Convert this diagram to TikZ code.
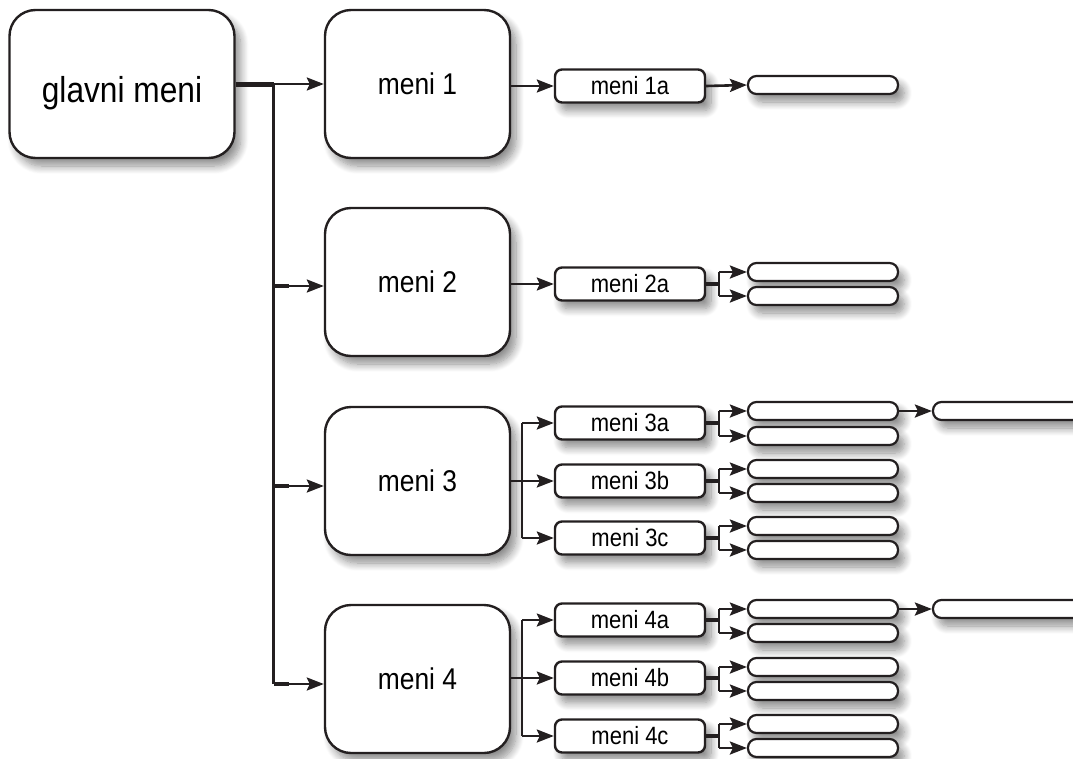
\documentclass[tikz,border=0pt]{standalone}
\usepackage{fontspec}
\setmainfont{Liberation Sans}[FakeStretch=0.88]
\usetikzlibrary{arrows.meta,shadows.blur}
\definecolor{ink}{HTML}{231F20}
\tikzset{
  box/.style={draw=ink, line width=2.4pt, fill=white, inner sep=0pt,
    blur shadow={shadow xshift=6pt, shadow yshift=-8pt, shadow blur steps=10, shadow blur radius=8pt, shadow opacity=45}},
  bigbox/.style={box, rounded corners=26pt, minimum width=185pt, minimum height=148pt, font=\fontsize{30}{32}\selectfont},
  topbox/.style={bigbox, minimum width=225pt, font=\fontsize{36}{38}\selectfont, text height=36pt, text depth=0pt},
  smallbox/.style={box, rounded corners=7pt, minimum width=150pt, minimum height=33pt, font=\fontsize{25}{26}\selectfont},
  blank/.style={box, line width=2.2pt, rounded corners=8.5pt, minimum width=150pt, minimum height=18pt},
  link/.style={draw=ink, line width=2.6pt, -{Stealth[length=17pt,width=13pt,inset=3pt]}},
  bar/.style={draw=ink, line width=3.4pt},
  thickbar/.style={draw=ink, line width=5pt}
}
\begin{document}
\begin{tikzpicture}[x=1pt,y=-1pt]
\useasboundingbox (0,0) rectangle (1073,758);
\clip (0,0) rectangle (1073,758);

% main boxes
\node[topbox] (g) at (122,84) {glavni meni};
\node[bigbox] (m1) at (417.5,84) {meni 1};
\node[bigbox] (m2) at (417.5,282) {meni 2};
\node[bigbox] (m3) at (417.5,481) {meni 3};
\node[bigbox] (m4) at (417.5,679) {meni 4};

% second level
\node[smallbox] (s1a) at (630,86) {meni 1a};
\node[smallbox] (s2a) at (630,284) {meni 2a};
\node[smallbox] (s3a) at (630,423) {meni 3a};
\node[smallbox] (s3b) at (630,481) {meni 3b};
\node[smallbox] (s3c) at (630,538) {meni 3c};
\node[smallbox] (s4a) at (630,620) {meni 4a};
\node[smallbox] (s4b) at (630,678) {meni 4b};
\node[smallbox] (s4c) at (630,736) {meni 4c};

% third level
\node[blank] (b1a) at (823,85) {};
\node[blank] (b2a1) at (823,272) {};
\node[blank] (b2a2) at (823,296) {};
\node[blank] (b3a1) at (823,411) {};
\node[blank] (b3a2) at (823,436) {};
\node[blank] (b3b1) at (823,469) {};
\node[blank] (b3b2) at (823,493) {};
\node[blank] (b3c1) at (823,526) {};
\node[blank] (b3c2) at (823,550) {};
\node[blank] (b4a1) at (823,609) {};
\node[blank] (b4a2) at (823,633) {};
\node[blank] (b4b1) at (823,667) {};
\node[blank] (b4b2) at (823,691) {};
\node[blank] (b4c1) at (823,724) {};
\node[blank] (b4c2) at (823,748) {};

% fourth level
\node[blank, minimum width=160pt] (f3) at (1013,411) {};
\node[blank, minimum width=160pt] (f4) at (1013,609) {};

% main trunk
\path (g.east) ++(38,0) coordinate (J);
\draw[thickbar] (g.east) -- (J);
\draw[bar] (J) -- (J |- 0,684);
\draw[link] (J) -- (m1.west);
\draw[bar] (J |- 0,286) -- ++(15,0);
\draw[link] (J |- 0,286) -- (m2.west |- 0,286);
\draw[bar] (J |- 0,486) -- ++(15,0);
\draw[link] (J |- 0,486) -- (m3.west |- 0,486);
\draw[bar] (J |- 0,684) -- ++(15,0);
\draw[link] (J |- 0,684) -- (m4.west |- 0,684);

% meni 1 and 2
\draw[link] (m1.east |- s1a.west) -- (s1a.west);
\draw[link] (s1a.east) -- (b1a.west);
\draw[link] (m2.east |- s2a.west) -- (s2a.west);

% meni 3 and 4 forks
\foreach \m/\a/\b/\c in {m3/s3a/s3b/s3c, m4/s4a/s4b/s4c}{
  \draw[link] (\m.east |- \b.west) -- (\b.west);
  \draw[draw=ink, line width=2.8pt] (522,0 |- \a.west) -- (522,0 |- \c.west);
  \draw[link] (522,0 |- \a.west) -- (\a.west);
  \draw[link] (522,0 |- \c.west) -- (\c.west);
}

% small-box forks
\foreach \s/\u/\d in {s2a/b2a1/b2a2, s3a/b3a1/b3a2, s3b/b3b1/b3b2, s3c/b3c1/b3c2, s4a/b4a1/b4a2, s4b/b4b1/b4b2, s4c/b4c1/b4c2}{
  \draw[bar] (\s.east) -- ++(14,0);
  \draw[draw=ink, line width=2.6pt] (719,0 |- \u.west) -- (719,0 |- \d.west);
  \draw[link] (719,0 |- \u.west) -- (\u.west);
  \draw[link] (719,0 |- \d.west) -- (\d.west);
}

% fourth-level links
\draw[link] (b3a1.east) -- (f3.west);
\draw[link] (b4a1.east) -- (f4.west);
\end{tikzpicture}
\end{document}
